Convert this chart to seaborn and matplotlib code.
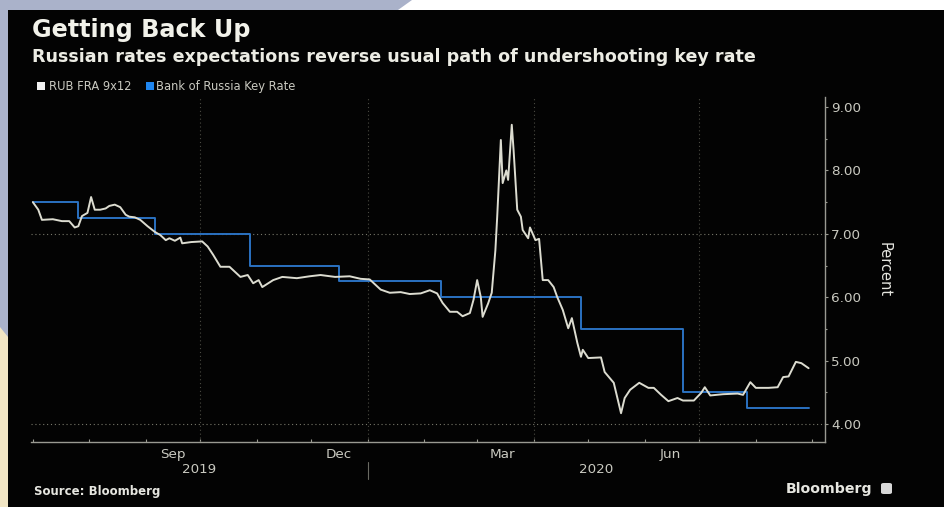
import matplotlib
matplotlib.use("Agg")
import matplotlib.pyplot as plt
import matplotlib.dates as mdates
import matplotlib.transforms as mtransforms
from matplotlib.patches import Polygon, Rectangle, FancyBboxPatch
from matplotlib.ticker import MultipleLocator, FixedLocator, NullFormatter, FixedFormatter
import pandas as pd
import seaborn as sns

# ---------------- data ----------------
fra_dates = [
    "2019-07-01", "2019-07-04", "2019-07-06", "2019-07-12", "2019-07-17", "2019-07-21",
    "2019-07-24", "2019-07-26", "2019-07-28", "2019-07-31", "2019-08-02", "2019-08-04",
    "2019-08-07", "2019-08-10", "2019-08-12", "2019-08-15", "2019-08-18", "2019-08-21",
    "2019-08-23", "2019-08-26", "2019-08-29", "2019-09-02", "2019-09-06", "2019-09-09",
    "2019-09-12", "2019-09-14", "2019-09-17", "2019-09-20", "2019-09-21", "2019-09-26",
    "2019-10-02", "2019-10-05", "2019-10-08", "2019-10-12", "2019-10-17", "2019-10-23",
    "2019-10-27", "2019-10-30", "2019-11-02", "2019-11-04", "2019-11-10", "2019-11-15",
    "2019-11-23", "2019-11-30", "2019-12-06", "2019-12-14", "2019-12-22", "2019-12-28",
    "2020-01-02", "2020-01-08", "2020-01-13", "2020-01-19", "2020-01-24", "2020-01-30",
    "2020-02-04", "2020-02-08", "2020-02-11", "2020-02-15", "2020-02-19", "2020-02-22",
    "2020-02-26", "2020-02-28", "2020-03-01", "2020-03-03", "2020-03-04", "2020-03-07",
    "2020-03-09", "2020-03-11", "2020-03-12", "2020-03-14", "2020-03-15", "2020-03-17",
    "2020-03-18", "2020-03-20", "2020-03-21", "2020-03-23", "2020-03-25", "2020-03-26",
    "2020-03-29", "2020-03-30", "2020-04-02", "2020-04-04", "2020-04-06", "2020-04-09",
    "2020-04-12", "2020-04-14", "2020-04-17", "2020-04-20", "2020-04-22", "2020-04-25",
    "2020-04-27", "2020-04-28", "2020-05-01", "2020-05-08", "2020-05-10", "2020-05-15",
    "2020-05-19", "2020-05-21", "2020-05-24", "2020-05-29", "2020-06-03", "2020-06-06",
    "2020-06-10", "2020-06-14", "2020-06-19", "2020-06-22", "2020-06-28", "2020-07-02",
    "2020-07-04", "2020-07-07", "2020-07-14", "2020-07-22", "2020-07-25", "2020-07-29",
    "2020-08-01", "2020-08-08", "2020-08-13", "2020-08-16", "2020-08-19", "2020-08-23",
    "2020-08-26", "2020-08-27", "2020-08-30",
]
fra_values = [
    7.50, 7.38, 7.22, 7.23, 7.20, 7.20,
    7.10, 7.12, 7.28, 7.33, 7.58, 7.38,
    7.38, 7.40, 7.44, 7.46, 7.42, 7.30,
    7.27, 7.26, 7.22, 7.12, 7.03, 6.98,
    6.90, 6.93, 6.89, 6.94, 6.85, 6.87,
    6.88, 6.80, 6.67, 6.48, 6.48, 6.32,
    6.35, 6.22, 6.27, 6.16, 6.27, 6.32,
    6.30, 6.33, 6.35, 6.32, 6.33, 6.29,
    6.28, 6.12, 6.07, 6.08, 6.05, 6.06,
    6.11, 6.06, 5.91, 5.77, 5.77, 5.70,
    5.75, 5.96, 6.27, 6.00, 5.69, 5.90,
    6.07, 6.74, 7.27, 8.48, 7.80, 8.00,
    7.85, 8.72, 8.32, 7.38, 7.27, 7.06,
    6.93, 7.10, 6.90, 6.92, 6.27, 6.27,
    6.16, 6.00, 5.80, 5.51, 5.67, 5.28,
    5.06, 5.17, 5.04, 5.05, 4.82, 4.65,
    4.17, 4.41, 4.54, 4.65, 4.57, 4.57,
    4.46, 4.36, 4.41, 4.37, 4.37, 4.49,
    4.58, 4.45, 4.47, 4.48, 4.46, 4.66,
    4.57, 4.57, 4.58, 4.74, 4.75, 4.98,
    4.96, 4.94, 4.88,
]
key_dates = ["2019-07-01", "2019-07-26", "2019-09-06", "2019-10-28", "2019-12-16",
             "2020-02-10", "2020-04-27", "2020-06-22", "2020-07-27", "2020-08-30"]
key_values = [7.50, 7.25, 7.00, 6.50, 6.25, 6.00, 5.50, 4.50, 4.25, 4.25]

series_names = ["RUB FRA 9x12", "Bank of Russia Key Rate"]
y_ticks = [4, 5, 6, 7, 8, 9]
y_grid = [4, 7]
month_labels = ["Sep", "Dec", "Mar", "Jun"]
month_label_dates = ["2019-09-16", "2019-12-16", "2020-03-15", "2020-06-15"]
quarter_grid_dates = ["2019-10-01", "2020-01-01", "2020-04-01", "2020-07-01"]
year_labels = ["2019", "2020"]
year_break = "2020-01-01"
x_start, x_end = "2019-06-30", "2020-09-08"

# ---------------- style ----------------
W, H = 945, 507
BG_BLACK = "#030303"
WHITE_LINE = "#dcdcd0"
BLUE_LINE = "#2b72c2"
TICK_COL = "#c9c9c0"
AXIS_COL = "#9a9a92"

sns.set_theme(style="dark", rc={"axes.facecolor": "none"})
plt.rcParams["font.family"] = ["DejaVu Sans"]

fig = plt.figure(figsize=(W / 100, H / 100), dpi=100, facecolor="#aab2ca")

def fx(px):
    return px / W

def fy(py):
    return 1 - py / H

# background decoration
fig.patches.append(Polygon([(fx(412), fy(0)), (fx(945), fy(0)), (fx(945), fy(10)), (fx(398), fy(10))],
                           closed=True, transform=fig.transFigure, facecolor="#ffffff",
                           edgecolor="none", zorder=-3))
fig.patches.append(Polygon([(fx(0), fy(327)), (fx(8), fy(337)), (fx(8), fy(507)), (fx(0), fy(507))],
                           closed=True, transform=fig.transFigure, facecolor="#f1e5c4",
                           edgecolor="none", zorder=-3))
fig.patches.append(Rectangle((fx(8), 0), 1 - fx(8), fy(10), transform=fig.transFigure,
                             facecolor=BG_BLACK, edgecolor="none", zorder=-2))

ax = fig.add_axes([fx(31), fy(442), fx(825) - fx(31), (442 - 97) / H])
ax.set_facecolor("none")

fra = pd.DataFrame({"date": pd.to_datetime(fra_dates), "value": fra_values})
key = pd.DataFrame({"date": pd.to_datetime(key_dates), "value": key_values})

sns.lineplot(data=fra, x="date", y="value", ax=ax, color=WHITE_LINE, linewidth=1.4,
             estimator=None, zorder=4)
sns.lineplot(data=key, x="date", y="value", ax=ax, color=BLUE_LINE, linewidth=1.4,
             estimator=None, drawstyle="steps-post", zorder=3)

ax.set_xlim(pd.Timestamp(x_start), pd.Timestamp(x_end))
ax.set_ylim(3.716, 9.158)
ax.set_xlabel("")
ax.set_ylabel("")

# grid
for g in y_grid:
    ax.axhline(g, color="#77776a", linestyle=(0, (1, 2.5)), linewidth=0.8, zorder=1)
for d in quarter_grid_dates:
    ax.axvline(pd.Timestamp(d), color="#4a4a42", linestyle=(0, (1, 2.5)), linewidth=0.8, zorder=1)
ax.grid(False)

# spines
for s in ["left", "top"]:
    ax.spines[s].set_visible(False)
for s in ["right", "bottom"]:
    ax.spines[s].set_visible(True)
    ax.spines[s].set_color(AXIS_COL)
    ax.spines[s].set_linewidth(1.0)

# y axis on right
ax.yaxis.tick_right()
ax.yaxis.set_major_locator(FixedLocator(y_ticks))
ax.yaxis.set_major_formatter(FixedFormatter([f"{v:.2f}" for v in y_ticks]))
ax.yaxis.set_minor_locator(MultipleLocator(0.5))
ax.tick_params(axis="y", which="major", direction="out", length=2.5, width=0.8,
               color=AXIS_COL, labelcolor=TICK_COL, labelsize=9.7, pad=2,
               right=True, left=False)
ax.tick_params(axis="y", which="minor", direction="out", length=1.5, width=0.8,
               color=AXIS_COL, right=True, left=False)

# x axis: month ticks + mid-month labels
ax.xaxis.set_major_locator(mdates.MonthLocator())
ax.xaxis.set_major_formatter(NullFormatter())
ax.xaxis.set_minor_locator(FixedLocator(mdates.date2num(pd.to_datetime(month_label_dates))))
ax.xaxis.set_minor_formatter(FixedFormatter(month_labels))
ax.tick_params(axis="x", which="major", direction="in", length=2.5, width=0.8,
               color=AXIS_COL, bottom=True)
ax.tick_params(axis="x", which="minor", length=0, labelcolor=TICK_COL, labelsize=9.7, pad=4)

trans = mtransforms.blended_transform_factory(ax.transData, ax.transAxes)
xs = mdates.date2num(pd.Timestamp(x_start))
xe = mdates.date2num(pd.Timestamp(x_end))
xb = mdates.date2num(pd.Timestamp(year_break))
ax.text((xs + xb) / 2, -0.081, year_labels[0], transform=trans, ha="center", va="center",
        color=TICK_COL, fontsize=9.7)
ax.text((xb + xe) / 2, -0.081, year_labels[1], transform=trans, ha="center", va="center",
        color=TICK_COL, fontsize=9.7)
ax.plot([xb, xb], [-0.058, -0.107], transform=trans, color="#6a6a62", linewidth=0.8,
        clip_on=False)

# titles
fig.text(fx(32), fy(37), "Getting Back Up", color="#f2f2ea", fontsize=17.2, fontweight="bold",
         ha="left", va="baseline")
fig.text(fx(32), fy(62), "Russian rates expectations reverse usual path of undershooting key rate",
         color="#ececE4", fontsize=12.6, fontweight="bold", ha="left", va="baseline")

# legend
fig.patches.append(Rectangle((fx(37), fy(90)), fx(8), 8 / H, transform=fig.transFigure,
                             facecolor="#f0f0f0", edgecolor="none", zorder=3))
fig.text(fx(49), fy(90), series_names[0], color=TICK_COL, fontsize=8.3, ha="left", va="baseline")
fig.patches.append(Rectangle((fx(146), fy(90)), fx(8), 8 / H, transform=fig.transFigure,
                             facecolor="#1f86f0", edgecolor="none", zorder=3))
fig.text(fx(156), fy(90), series_names[1], color=TICK_COL, fontsize=8.3, ha="left", va="baseline")

# axis title
fig.text(fx(884), fy(270), "Percent", color="#e6e6e0", fontsize=10.5, rotation=270,
         ha="center", va="center")

# footer
fig.text(fx(34), fy(495), "Source: Bloomberg", color="#e6e6e0", fontsize=8.5, fontweight="bold",
         ha="left", va="baseline")
fig.text(fx(786), fy(493), "Bloomberg", color="#e6e6e0", fontsize=10.2, fontweight="bold",
         ha="left", va="baseline")
fig.patches.append(FancyBboxPatch((fx(881), fy(494)), fx(11), 11 / H,
                                  boxstyle="round,pad=0.0,rounding_size=0.003",
                                  transform=fig.transFigure, facecolor="#d8d8d8",
                                  edgecolor="none", zorder=3))

fig.savefig("out.png", dpi=100, facecolor=fig.get_facecolor())
